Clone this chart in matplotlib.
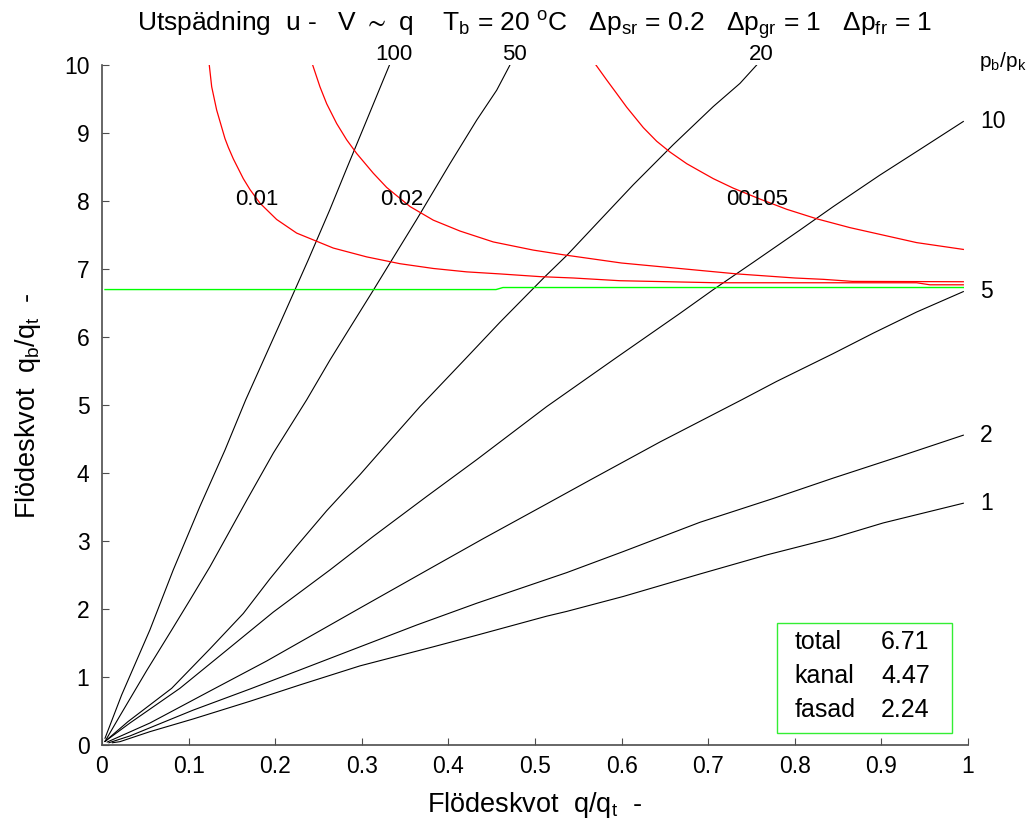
import numpy as np
import matplotlib
matplotlib.use("Agg")
import matplotlib.pyplot as plt
from matplotlib.patches import Rectangle

plt.rcParams["font.family"] = ["Liberation Sans", "DejaVu Sans"]
plt.rcParams["mathtext.default"] = "regular"

# p_b/p_k curves (black)
x_100 = [0.0035, 0.0227, 0.0554, 0.0823, 0.113, 0.142, 0.166, 0.2055, 0.238, 0.263, 0.2826, 0.3057, 0.3248, 0.332]
y_100 = [0.106, 0.742, 1.70, 2.58, 3.51, 4.34, 5.08, 6.20, 7.13, 7.87, 8.48, 9.19, 9.78, 10.0]

x_50 = [0.0035, 0.02, 0.0516, 0.0805, 0.1016, 0.1247, 0.144, 0.167, 0.198, 0.2364, 0.2633, 0.2825,
        0.3133, 0.3441, 0.3634, 0.3826, 0.4018, 0.4327, 0.4558, 0.4711]
y_50 = [0.06, 0.42, 1.10, 1.697, 2.138, 2.627, 3.07, 3.60, 4.30, 5.08, 5.665, 6.06,
        6.69, 7.33, 7.73, 8.14, 8.55, 9.19, 9.63, 10.0]

x_20 = [0.0035, 0.03, 0.0805, 0.1247, 0.1632, 0.194, 0.2248, 0.2595, 0.2979, 0.3248, 0.3672, 0.421, 0.4596,
        0.5115, 0.5366, 0.575, 0.6135, 0.6597, 0.7059, 0.7367, 0.756]
y_20 = [0.06, 0.35, 0.84, 1.42, 1.94, 2.45, 2.93, 3.45, 3.98, 4.37, 4.98, 5.70, 6.22,
        6.89, 7.20, 7.72, 8.24, 8.83, 9.39, 9.73, 10.0]

x_10 = [0.0035, 0.0323, 0.090, 0.144, 0.1978, 0.2633, 0.313, 0.375, 0.4327, 0.5135, 0.594, 0.6674, 0.706,
        0.752, 0.806, 0.8445, 0.898, 0.9446, 0.9946]
y_10 = [0.06, 0.33, 0.84, 1.40, 1.96, 2.58, 3.07, 3.66, 4.20, 4.98, 5.70, 6.35, 6.70,
        7.10, 7.575, 7.92, 8.38, 8.76, 9.17]

x_5 = [0.006, 0.0554, 0.1247, 0.190, 0.244, 0.298, 0.3788, 0.4403, 0.5135, 0.5635, 0.6443, 0.7387,
       0.779, 0.8445, 0.8907, 0.9407, 0.9946]
y_5 = [0.05, 0.33, 0.80, 1.24, 1.63, 2.02, 2.60, 3.04, 3.55, 3.90, 4.46, 5.08,
       5.35, 5.76, 6.06, 6.37, 6.67]

x_2 = [0.008, 0.0323, 0.1054, 0.171, 0.2286, 0.298, 0.3634, 0.4327, 0.5135, 0.5366, 0.602, 0.6905,
       0.7752, 0.8445, 0.9215, 0.9946]
y_2 = [0.04, 0.14, 0.52, 0.83, 1.11, 1.45, 1.77, 2.09, 2.44, 2.54, 2.85, 3.28,
       3.63, 3.93, 4.25, 4.56]

x_1 = [0.012, 0.0208, 0.0554, 0.1054, 0.171, 0.2286, 0.298, 0.3826, 0.4327, 0.5135, 0.5366, 0.602,
       0.6905, 0.7675, 0.8445, 0.902, 0.9946]
y_1 = [0.04, 0.056, 0.203, 0.39, 0.65, 0.89, 1.17, 1.45, 1.62, 1.90, 1.97, 2.19,
       2.52, 2.80, 3.05, 3.27, 3.56]

ratio_labels = ["100", "50", "20", "10", "5", "2", "1"]

# red curves
xr_01 = [0.1239, 0.1267, 0.1324, 0.142, 0.1459, 0.1517, 0.1632, 0.1709, 0.1824, 0.2017, 0.2248, 0.2671,
         0.3057, 0.3441, 0.3826, 0.4211, 0.4596, 0.5058, 0.5442, 0.598, 0.7098, 0.9407, 0.956, 0.9946]
yr_01 = [10.0, 9.68, 9.34, 8.92, 8.79, 8.62, 8.33, 8.17, 7.97, 7.73, 7.53, 7.31,
         7.18, 7.08, 7.01, 6.96, 6.93, 6.89, 6.87, 6.83, 6.80, 6.80, 6.77, 6.77]

xr_02 = [0.2433, 0.2517, 0.2595, 0.271, 0.2826, 0.2941, 0.3133, 0.3288, 0.3557, 0.3826, 0.4134, 0.4518,
         0.498, 0.5333, 0.5667, 0.600, 0.6333, 0.6667, 0.700, 0.7333, 0.7667, 0.800, 0.8333, 0.8667, 0.9946]
yr_02 = [10.0, 9.68, 9.43, 9.14, 8.90, 8.70, 8.41, 8.20, 7.92, 7.72, 7.56, 7.40,
         7.28, 7.21, 7.15, 7.09, 7.05, 7.01, 6.97, 6.93, 6.90, 6.87, 6.85, 6.82, 6.815]

xr_05 = [0.5704, 0.5828, 0.5944, 0.6059, 0.6251, 0.6405, 0.656, 0.6752, 0.6905, 0.7059, 0.7290,
         0.7598, 0.7906, 0.8253, 0.8637, 0.9022, 0.9407, 0.9946]
yr_05 = [10.0, 9.78, 9.58, 9.38, 9.08, 8.88, 8.72, 8.55, 8.44, 8.33, 8.19,
         8.03, 7.88, 7.74, 7.61, 7.50, 7.39, 7.29]

red_labels = ["0.01", "0.02", "00105"]

# green line (total)
x_g = [0.0035, 0.455, 0.463, 0.9946]
y_g = [6.70, 6.70, 6.73, 6.73]

box_names = ["total", "kanal", "fasad"]
box_values = [6.71, 4.47, 2.24]

fig = plt.figure(figsize=(10.30, 8.25), dpi=100)
ax = fig.add_axes([0.099, 0.0964, 0.8408, 0.8248])

black = [(x_100, y_100), (x_50, y_50), (x_20, y_20), (x_10, y_10), (x_5, y_5), (x_2, y_2), (x_1, y_1)]
for xs, ys in black:
    ax.plot(xs, ys, color="black", lw=0.8)

reds = [(xr_01, yr_01), (xr_02, yr_02), (xr_05, yr_05)]
for xs, ys in reds:
    ax.plot(xs, ys, color="#ff0000", lw=0.9)

ax.plot(x_g, y_g, color="#00ff00", lw=1.0)

ax.set_xlim(0, 1)
ax.set_ylim(0, 10)
ax.set_xticks(np.arange(0, 1.01, 0.1))
ax.set_xticklabels(["0", "0.1", "0.2", "0.3", "0.4", "0.5", "0.6", "0.7", "0.8", "0.9", "1"])
ax.set_yticks(range(11))
ax.spines["top"].set_visible(False)
ax.spines["right"].set_visible(False)
for s in ["left", "bottom"]:
    ax.spines[s].set_color("0.3")
    ax.spines[s].set_linewidth(1.2)
ax.tick_params(direction="in", length=5, width=0.8, color="0.3", labelsize=16.5)
ax.tick_params(axis="x", pad=7)
ax.tick_params(axis="y", pad=9)

# curve labels at the upper ends of the black curves
for xs, lab in zip([x_100, x_50, x_20], ratio_labels[:3]):
    ax.text(xs[-1] + 0.005, 10.15, lab, fontsize=16, ha="center", va="center", clip_on=False)
for ys, lab in zip([y_10, y_5, y_2, y_1], ratio_labels[3:]):
    ax.text(1.014, ys[-1], lab, fontsize=16.5, ha="left", va="center", clip_on=False)
ax.text(1.04, 10.05, "p$_b$/p$_k$", fontsize=15, ha="center", va="center", clip_on=False)

for xpos, lab in zip([0.1786, 0.346, 0.756], red_labels):
    ax.text(xpos, 8.02, lab, fontsize=16, ha="center", va="center")

# info box
ax.add_patch(Rectangle((0.7794, 0.0184), 0.2021, 0.1616, transform=ax.transAxes,
                       fill=False, edgecolor="#33ee33", lw=1.0))
for i, (name, val) in enumerate(zip(box_names, box_values)):
    yy = 0.152 - i * 0.05
    ax.text(0.800, yy, name, fontsize=18, ha="left", va="center", transform=ax.transAxes)
    ax.text(0.8995, yy, f"{val:.2f}", fontsize=18, ha="left", va="center", transform=ax.transAxes)

ax.text(0.5, 1.0485,
        "Utspädning  u -   V $\\sim$ q    T$_b$ = 20 $^o$C   $\\Delta$p$_{sr}$ = 0.2   "
        "$\\Delta$p$_{gr}$ = 1   $\\Delta$p$_{fr}$ = 1",
        fontsize=19, ha="center", va="baseline", transform=ax.transAxes)

ax.set_xlabel("Flödeskvot  q/q$_t$  -", fontsize=19.5)
ax.set_ylabel("Flödeskvot  q$_b$/q$_t$  -", fontsize=19.5)
ax.xaxis.set_label_coords(0.5, -0.066)
ax.yaxis.set_label_coords(-0.068, 0.5)

fig.savefig("out.png", dpi=100)
